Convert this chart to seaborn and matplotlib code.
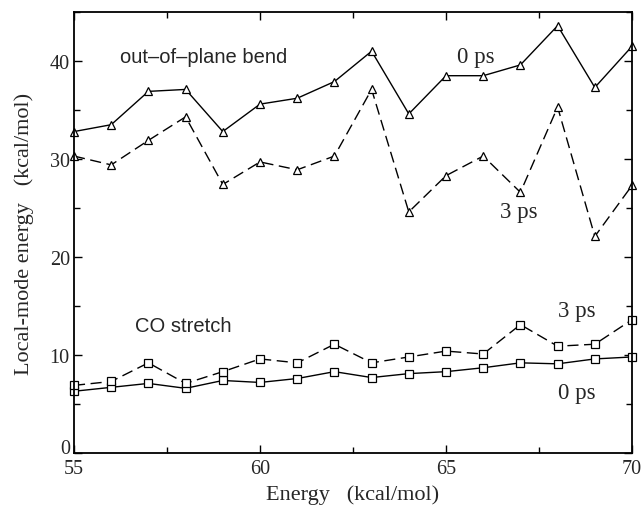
import matplotlib
matplotlib.use("Agg")
import matplotlib.pyplot as plt
from matplotlib.ticker import MultipleLocator
from matplotlib.transforms import ScaledTranslation
import pandas as pd
import seaborn as sns

# Excitation energies (kcal/mol)
energy = [55, 56, 57, 58, 59, 60, 61, 62, 63, 64, 65, 66, 67, 68, 69, 70]

# Local-mode energy of the out-of-plane bend
bend_0ps = [32.8, 33.5, 36.9, 37.1, 32.8, 35.6, 36.2, 37.9,
            41.0, 34.6, 38.5, 38.5, 39.6, 43.6, 37.3, 41.5]
bend_3ps = [30.3, 29.4, 31.9, 34.3, 27.4, 29.7, 28.9, 30.3,
            37.1, 24.6, 28.3, 30.3, 26.6, 35.3, 22.1, 27.3]

# Local-mode energy of the CO stretch
co_0ps = [6.3, 6.7, 7.1, 6.6, 7.4, 7.2, 7.6, 8.3,
          7.7, 8.1, 8.3, 8.7, 9.2, 9.1, 9.6, 9.8]
co_3ps = [6.9, 7.3, 9.2, 7.1, 8.3, 9.6, 9.2, 11.1,
          9.2, 9.8, 10.4, 10.1, 13.1, 10.9, 11.1, 13.6]

sns.set_theme(style="ticks")
plt.rcParams["font.family"] = ["Liberation Serif", "DejaVu Serif"]

fig = plt.figure(figsize=(6.44, 5.10), dpi=100)
ax = fig.add_axes([0.1149, 0.1098, 0.8665, 0.8647])

series = [
    (bend_0ps, "^", None),
    (bend_3ps, "^", (8, 4)),
    (co_0ps, "s", None),
    (co_3ps, "s", (8, 4)),
]
for values, marker, dash in series:
    df = pd.DataFrame({"energy": energy, "value": values})
    sns.lineplot(x="energy", y="value", data=df, ax=ax, color="black",
                 linewidth=1.0, marker=marker, markersize=5.5,
                 markerfacecolor="white", markeredgecolor="black",
                 markeredgewidth=0.9, clip_on=False)
    line = ax.lines[-1]
    if dash is not None:
        line.set_dashes(list(dash))

ax.set_xlim(55, 70)
ax.set_ylim(0, 45)
ax.xaxis.set_major_locator(MultipleLocator(5))
ax.xaxis.set_minor_locator(MultipleLocator(2.5))
ax.yaxis.set_major_locator(MultipleLocator(10))
ax.yaxis.set_minor_locator(MultipleLocator(5))
ax.tick_params(which="both", direction="in", top=True, right=True,
               width=1.0, color="black", labelsize=14.5)
ax.tick_params(axis="x", pad=4)
ax.tick_params(axis="y", pad=3)
ax.tick_params(which="major", length=6)
ax.tick_params(which="minor", length=4)
for s in ax.spines.values():
    s.set_linewidth(1.3)
    s.set_color("black")

ax.set_xlabel("Energy   (kcal/mol)", fontsize=16, labelpad=5)
ax.set_ylabel("Local-mode energy   (kcal/mol)", fontsize=16, labelpad=11)

sans = ["Liberation Sans", "DejaVu Sans"]
ax.text(56.25, 40.5, "out\u2013of\u2013plane bend", family=sans, fontsize=14.5,
        va="center", ha="left")
ax.text(56.65, 13.0, "CO stretch", family=sans, fontsize=14.5,
        va="center", ha="left")
ax.text(65.3, 40.5, "0 ps", fontsize=16.5, va="center", ha="left")
ax.text(66.45, 24.6, "3 ps", fontsize=16.5, va="center", ha="left")
ax.text(68.0, 14.5, "3 ps", fontsize=16.5, va="center", ha="left")
ax.text(68.0, 6.2, "0 ps", fontsize=16.5, va="center", ha="left")

# lift the "0" label on the y axis clear of the "55" below it
fig.canvas.draw()
for lbl in ax.get_yticklabels():
    if lbl.get_text() == "0":
        lbl.set_transform(lbl.get_transform()
                          + ScaledTranslation(0, 5 / 72, fig.dpi_scale_trans))

fig.savefig("out.png", dpi=100)
